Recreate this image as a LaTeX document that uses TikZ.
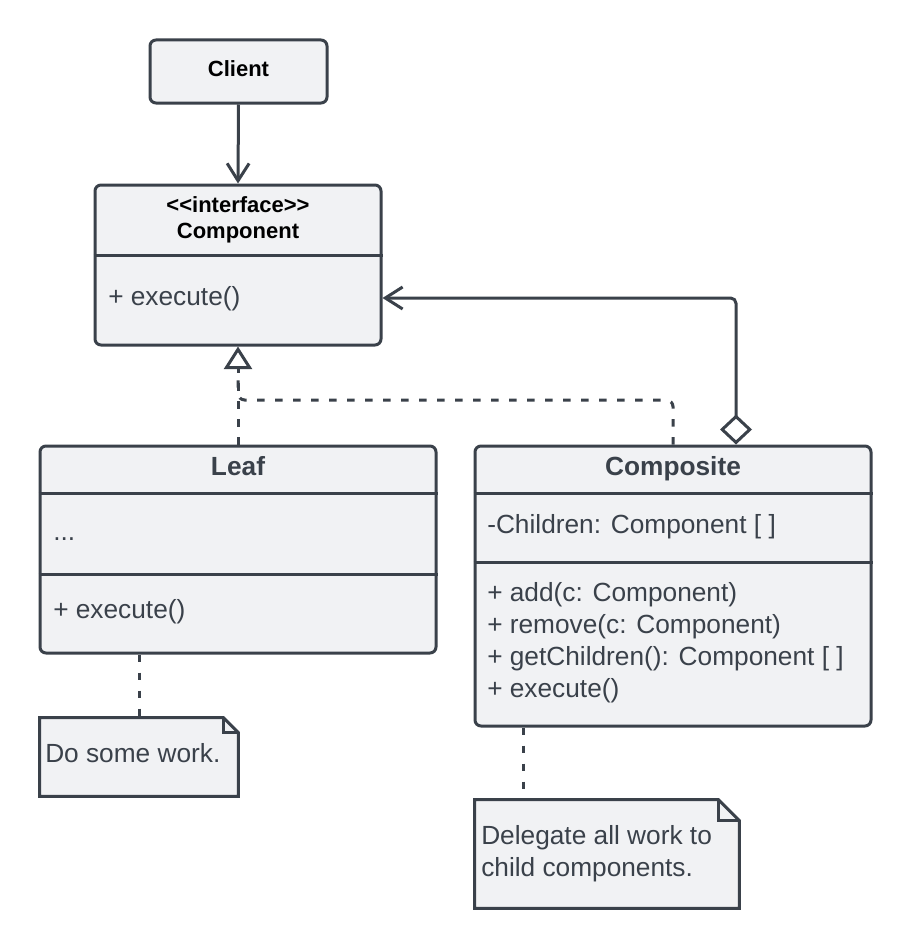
\documentclass[tikz,border=0pt]{standalone}
\usepackage{fontspec}
\setmainfont{Liberation Sans}
\usetikzlibrary{arrows.meta}
\definecolor{linec}{HTML}{3A414A}
\definecolor{fillc}{HTML}{F1F2F4}
\definecolor{textc}{HTML}{3A414A}
\tikzset{
  umlbox/.style={draw=linec, fill=fillc, line width=2.25pt, rounded corners=4.5pt, inner sep=0pt},
  divider/.style={draw=linec, line width=2.25pt},
  bodytext/.style={inner sep=0pt, anchor=base west, text=textc, font=\fontsize{19.7}{23}\selectfont},
  titletext/.style={inner sep=0pt, anchor=base, text=textc, font=\fontsize{19.7}{23}\selectfont\bfseries},
  smalltitle/.style={inner sep=0pt, anchor=base, text=black, font=\fontsize{16.5}{20}\selectfont\bfseries},
  assoc/.style={draw=linec, line width=2.25pt, -{Straight Barb[length=13pt, width=16.5pt]}},
  dotline/.style={draw=linec, line width=2.25pt, dash pattern=on 5.5pt off 8pt},
  notebg/.style={inner sep=0pt, draw=none},
  notepath/.style={draw=linec, fill=fillc, line width=2.25pt, line join=miter},
}
\begin{document}
\begin{tikzpicture}[x=0.75pt, y=-0.75pt]
\useasboundingbox (0,0) rectangle (912,949);

% Client
\node[umlbox, minimum width=132.75pt, minimum height=47.25pt] (client) at (238.5,71.5) {};
\node[smalltitle] (clientt) at (238.5,77) {Client};

% Component
\node[umlbox, minimum width=214.5pt, minimum height=120pt] (component) at (238,265) {};
\draw[divider] (component.west |- 0,255) -- (component.east |- 0,255);
\node[smalltitle] (compst) at (238,212) {{<}{<}interface{>}{>}};
\node[smalltitle] (compt) at (238,238) {Component};
\node[bodytext] (compm) at (108,305) {+ execute()};

% Leaf
\node[umlbox, minimum width=297pt, minimum height=155.25pt] (leaf) at (238,549.5) {};
\draw[divider] (leaf.west |- 0,493) -- (leaf.east |- 0,493);
\draw[divider] (leaf.west |- 0,574) -- (leaf.east |- 0,574);
\node[titletext] (leaft) at (238,475) {Leaf};
\node[bodytext] (leafa) at (53,540) {...};
\node[bodytext] (leafm) at (53,618) {+ execute()};

% Composite
\node[umlbox, minimum width=297pt, minimum height=210pt] (composite) at (673,586) {};
\draw[divider] (composite.west |- 0,493) -- (composite.east |- 0,493);
\draw[divider] (composite.west |- 0,562) -- (composite.east |- 0,562);
\node[titletext] (compot) at (673,475) {Composite};
\node[bodytext] (compoa) at (487,533) {-Children: Component [ ]};
\node[bodytext] (compm1) at (487,601) {+ add(c: Component)};
\node[bodytext] (compm2) at (487,633) {+ remove(c: Component)};
\node[bodytext] (compm3) at (487,665) {+ getChildren(): Component [ ]};
\node[bodytext] (compm4) at (487,697) {+ execute()};

% Notes
\node[notebg, minimum width=148.5pt, minimum height=58.5pt] (n1) at (139,757) {};
\draw[notepath] (n1.south west) -- (n1.north west) -- ([xshift=-11pt]n1.north east) -- ([yshift=-11pt]n1.north east) -- (n1.south east) -- cycle;
\draw[notepath, fill=none] ([xshift=-11pt]n1.north east) -- ([xshift=-11pt,yshift=-11pt]n1.north east) -- ([yshift=-11pt]n1.north east);
\node[bodytext] (n1t) at (45,762) {Do some work.};

\node[notebg, minimum width=198pt, minimum height=81pt] (n2) at (607,854) {};
\draw[notepath] (n2.south west) -- (n2.north west) -- ([xshift=-15.5pt]n2.north east) -- ([yshift=-15.5pt]n2.north east) -- (n2.south east) -- cycle;
\draw[notepath, fill=none] ([xshift=-15.5pt]n2.north east) -- ([xshift=-15.5pt,yshift=-15.5pt]n2.north east) -- ([yshift=-15.5pt]n2.north east);
\node[bodytext] (n2t1) at (481,844) {Delegate all work to};
\node[bodytext] (n2t2) at (481,876) {child components.};

% Connectors
\draw[assoc] (client.south) -- (component.north);
\draw[assoc, rounded corners=4pt, {Diamond[open, fill=white, length=22.5pt, width=24pt]}-{Straight Barb[length=13pt, width=16.5pt]}]
  ([xshift=47.25pt]composite.north) -- ([xshift=47.25pt]composite.north |- 0,298) -- ([yshift=-24.75pt]component.east);
\draw[dotline, -{Triangle[open, fill=white, length=17pt, width=21pt]}] (leaf.north) -- (component.south);
\draw[dotline, rounded corners=5pt] (composite.north) -- (composite.north |- 0,400) -- (leaf.north |- 0,400) -- (leaf.north |- 0,372);
\draw[dotline] (n1.north |- leaf.south) -- (n1.north);
\draw[dotline] ([xshift=-63pt]n2.north |- composite.south) -- ([xshift=-63pt]n2.north);
\end{tikzpicture}
\end{document}
